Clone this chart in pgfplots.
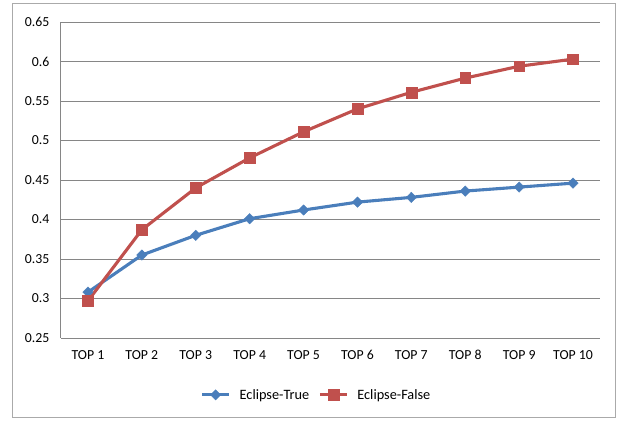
\documentclass[border=0pt]{standalone}
\usepackage{pgfplots}
\pgfplotsset{compat=1.18}
\usepackage{fontspec}
\setmainfont{Carlito}
\definecolor{cblue}{RGB}{74,126,187}
\definecolor{cred}{RGB}{192,80,77}
\definecolor{cgrid}{RGB}{134,134,134}
\begin{document}
\begin{tikzpicture}[x=1pt,y=1pt]
\begin{axis}[
  at={(0,0)}, anchor=south west,
  scale only axis, width=539pt, height=316pt,
  xmin=-0.5, xmax=9.5, ymin=0.25, ymax=0.65,
  xtick={0,...,9},
  xticklabels={TOP 1,TOP 2,TOP 3,TOP 4,TOP 5,TOP 6,TOP 7,TOP 8,TOP 9,TOP 10},
  ytick={0.25,0.3,...,0.651},
  yticklabels={0.25,0.3,0.35,0.4,0.45,0.5,0.55,0.6,0.65},
  ymajorgrids, major grid style={cgrid, line width=0.8pt},
  major tick length=0pt,
  axis x line*=bottom, axis y line*=left,
  axis line style={cgrid, line width=1pt, -},
  x axis line style={draw=none},
  tick label style={font=\fontsize{13.8}{15}\selectfont},
  yticklabel style={xshift=-8pt},
  xticklabel style={yshift=-9pt},
  legend style={at={(0.473,-0.18)}, anchor=center, draw=none, legend columns=2,
    nodes={font=\fontsize{14.3}{16}\selectfont, inner xsep=1pt}, column sep=8pt},
  legend image code/.code={\draw[mark repeat=2,mark phase=2] plot coordinates {(0pt,0pt) (13.5pt,0pt) (27pt,0pt)};},
  clip=false,
]
\addplot[cblue, line width=3.1pt, mark=diamond*, mark size=5.2pt, mark options={line width=0.4pt, xscale=1.33}] coordinates {
(0,0.308) (1,0.355) (2,0.380) (3,0.401) (4,0.412) (5,0.422) (6,0.428) (7,0.436) (8,0.441) (9,0.446)};
\addlegendentry{Eclipse-True}
\addplot[cred, line width=3.1pt, mark=square*, mark size=5.4pt, mark options={line width=0.4pt}] coordinates {
(0,0.297) (1,0.387) (2,0.440) (3,0.478) (4,0.511) (5,0.540) (6,0.561) (7,0.579) (8,0.594) (9,0.603)};
\addlegendentry{Eclipse-False}
\end{axis}
\draw[cgrid!70, line width=1pt] (-48,-80) rectangle (554,334);
\path (-61,-84) rectangle (558,338);
\end{tikzpicture}
\end{document}
